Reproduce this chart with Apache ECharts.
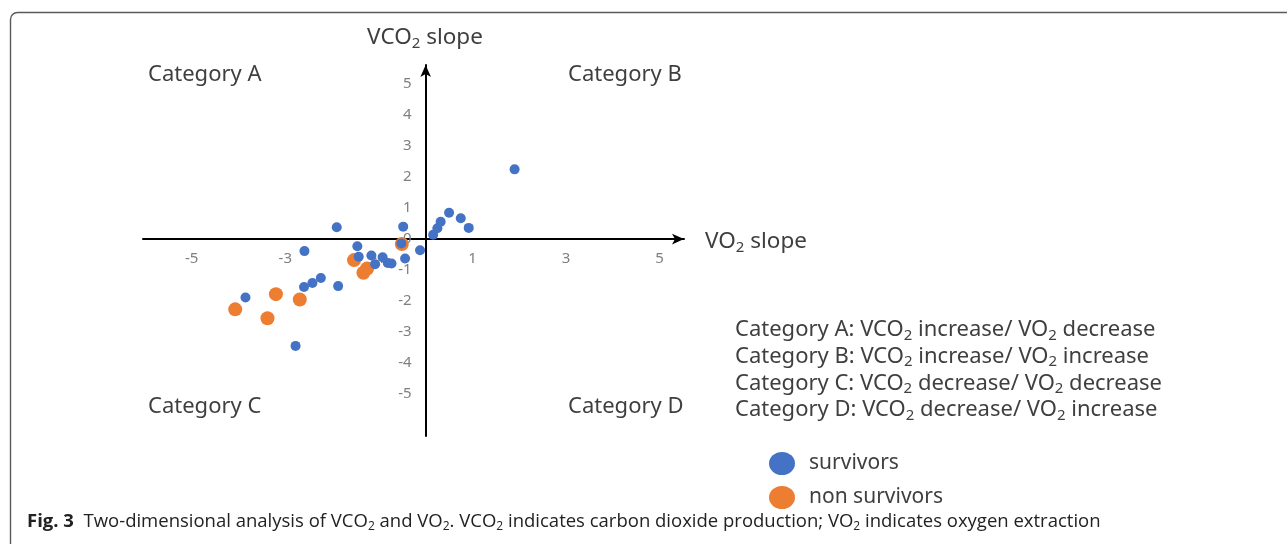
<!DOCTYPE html>
<html><head><meta charset="utf-8">
<script src="https://cdn.jsdelivr.net/npm/echarts@6/dist/echarts.min.js"></script>
<style>html,body{margin:0;padding:0;background:#fff}#c{width:1287px;height:544px}</style>
</head><body><div id="c"></div>
<script>
// ---- data ----
const survivors = [
  [-1.90, 0.38], [-0.48, 0.40], [-2.59, -0.39], [-1.46, -0.23], [-1.43, -0.57],
  [-1.16, -0.53], [-1.08, -0.81], [-0.92, -0.59], [-0.81, -0.77], [-0.73, -0.79],
  [-0.52, -0.14], [-0.44, -0.63], [-0.12, -0.36], [-2.24, -1.26], [-2.42, -1.42],
  [-2.60, -1.55], [-1.87, -1.52], [-3.85, -1.89], [-2.78, -3.45], [0.16, 0.14],
  [0.25, 0.35], [0.32, 0.56], [0.50, 0.85], [0.75, 0.67], [0.92, 0.36], [1.90, 2.25]
];
const nonSurvivors = [
  [-0.51, -0.16], [-1.53, -0.68], [-1.25, -0.95], [-1.33, -1.09],
  [-3.20, -1.78], [-2.69, -1.95], [-4.07, -2.27], [-3.38, -2.56]
];
const xTickValues = [-5, -3, -1, 1, 3, 5];
const yTickValues = [-5, -4, -3, -2, -1, 0, 1, 2, 3, 4, 5];
const seriesNames = ['survivors', 'non survivors'];
const quadrantLabels = ['Category A', 'Category B', 'Category C', 'Category D'];
const categoryNotes = [
  ['Category A: VCO', ' increase/ VO', ' decrease'],
  ['Category B: VCO', ' increase/ VO', ' increase'],
  ['Category C: VCO', ' decrease/ VO', ' decrease'],
  ['Category D: VCO', ' decrease/ VO', ' increase']
];

// ---- layout / styles ----
const F = '"Noto Sans", "DejaVu Sans", sans-serif';
const CF = '"Open Sans", "Noto Sans", sans-serif';
const TXT = '#3f3f3f';
const G = { left: 143, top: 65, width: 541, height: 371 };
const X_MIN = -6.04, X_MAX = 5.52, Y_MIN = -6.36, Y_MAX = 5.62;
const zeroX = G.left + G.width * (0 - X_MIN) / (X_MAX - X_MIN);
const zeroY = G.top + G.height * (Y_MAX - 0) / (Y_MAX - Y_MIN);

function subRich(size, subSize, lh, subLh, color, family) {
  return {
    n: { fontSize: size, lineHeight: lh, fill: color, fontFamily: family },
    s: { fontSize: subSize, lineHeight: subLh, verticalAlign: 'bottom', fill: color, fontFamily: family },
    b: { fontSize: size, lineHeight: lh, fill: color, fontFamily: family, fontWeight: 'bold' }
  };
}

const chart = echarts.init(document.getElementById('c'), null, { renderer: 'canvas' });

const graphics = [
  { type: 'rect', x: 10.5, y: 12.5, shape: { width: 1400, height: 700, r: 7 },
    style: { fill: 'none', stroke: '#5a5a5a', lineWidth: 1.4 }, silent: true },
  { type: 'text', x: 425, y: 38, style: {
      text: '{n|VCO}{s|2}{n| slope}', rich: subRich(22.5, 15, 26, 6, TXT, F),
      align: 'center', verticalAlign: 'middle' } },
  { type: 'text', x: 705, y: 242, style: {
      text: '{n|VO}{s|2}{n| slope}', rich: subRich(22.5, 15, 26, 6, TXT, F),
      align: 'left', verticalAlign: 'middle' } }
];
const qPos = [[148, 75], [568, 75], [148, 407], [568, 407]];
quadrantLabels.forEach((t, i) => {
  graphics.push({ type: 'text', x: qPos[i][0], y: qPos[i][1], style: {
    text: t, fontSize: 22, fill: TXT, fontFamily: F, align: 'left', verticalAlign: 'middle' } });
});
categoryNotes.forEach((p, i) => {
  graphics.push({ type: 'text', x: 735, y: 330 + i * 26.7, style: {
    text: '{n|' + p[0] + '}{s|2}{n|' + p[1] + '}{s|2}{n|' + p[2] + '}',
    rich: subRich(22, 15, 26, 6, TXT, F), align: 'left', verticalAlign: 'middle' } });
});
graphics.push({ type: 'text', x: 27, y: 522, style: {
  text: '{b|Fig. 3}{n|  Two-dimensional analysis of VCO}{s|2}{n| and VO}{s|2}{n|. VCO}{s|2}{n| indicates carbon dioxide production; VO}{s|2}{n| indicates oxygen extraction}',
  rich: subRich(18.5, 12, 22, 4, '#222', CF), align: 'left', verticalAlign: 'middle' } });

const option = {
  animation: false,
  backgroundColor: '#fff',
  grid: { left: G.left, top: G.top, width: G.width, height: G.height, containLabel: false },
  xAxis: {
    type: 'value', min: X_MIN, max: X_MAX, position: 'bottom',
    offset: -(G.top + G.height - zeroY),
    axisLine: { onZero: false, symbol: ['none', 'arrow'], symbolSize: [8, 12],
      lineStyle: { color: '#000', width: 2 } },
    axisTick: { show: false }, splitLine: { show: false },
    axisLabel: { customValues: xTickValues, color: '#7f7f7f', fontSize: 15, margin: 12, fontFamily: F }
  },
  yAxis: {
    type: 'value', min: Y_MIN, max: Y_MAX, position: 'left',
    offset: -(zeroX - G.left),
    axisLine: { onZero: false, symbol: ['none', 'arrow'], symbolSize: [8, 12],
      lineStyle: { color: '#000', width: 2 } },
    axisTick: { show: false }, splitLine: { show: false },
    axisLabel: { customValues: yTickValues, color: '#7f7f7f', fontSize: 15, margin: 14, fontFamily: F }
  },
  legend: {
    data: seriesNames, orient: 'vertical', left: 764, top: 447,
    itemWidth: 26, itemHeight: 23, itemGap: 11,
    icon: 'path://M13,0A13,11.5,0,1,1,13,23A13,11.5,0,1,1,13,0Z',
    textStyle: { fontSize: 21, color: TXT, fontFamily: F, padding: [0, 0, 0, 9] },
    selectedMode: false
  },
  graphic: graphics,
  series: [
    { type: 'scatter', name: seriesNames[1], data: nonSurvivors, symbolSize: 14,
      itemStyle: { color: '#ED7D31', opacity: 1 }, z: 2 },
    { type: 'scatter', name: seriesNames[0], data: survivors, symbolSize: 10,
      itemStyle: { color: '#4472C4', opacity: 1 }, z: 3 }
  ]
};
chart.setOption(option);
</script>
</body></html>
